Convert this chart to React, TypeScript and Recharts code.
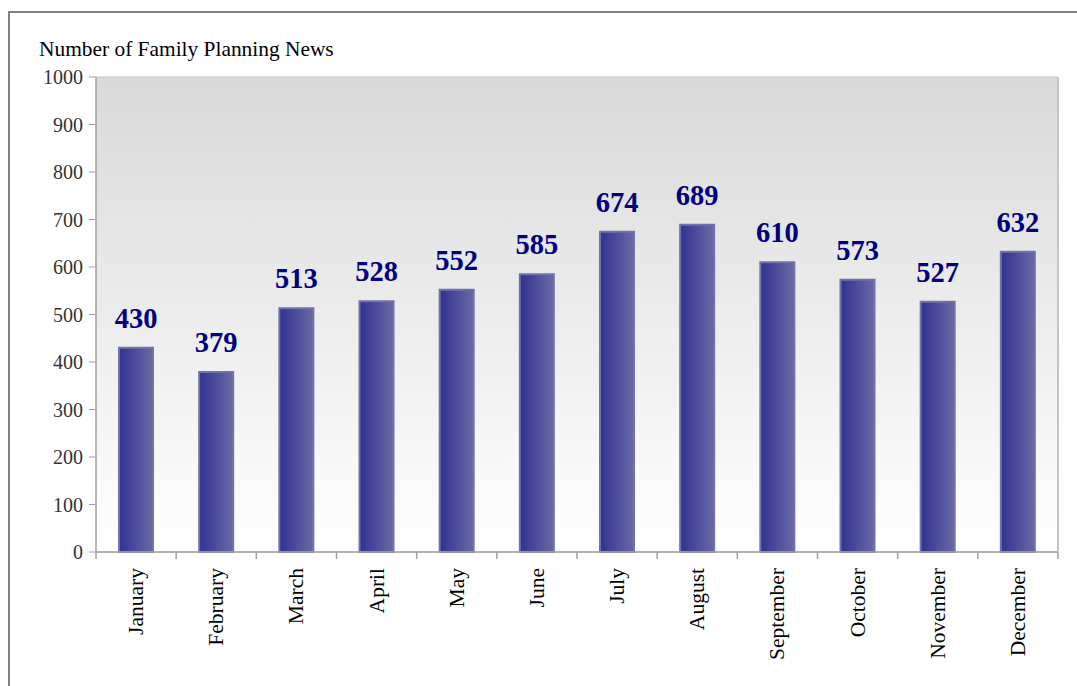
import React from "react";
import { BarChart, Bar, XAxis, YAxis, CartesianGrid, LabelList } from "recharts";

const months = ["January","February","March","April","May","June","July","August","September","October","November","December"];
const newsCounts = [430, 379, 513, 528, 552, 585, 674, 689, 610, 573, 527, 632];
const yTicks = [0, 100, 200, 300, 400, 500, 600, 700, 800, 900, 1000];
const title = "Number of Family Planning News";

const data = months.map((m, i) => ({ month: m, value: newsCounts[i] }));

const FONT = "'Liberation Serif', 'Times New Roman', serif";

const MonthTick = (props: any) => {
  const { x, y, payload, index } = props;
  const half = payload && payload.offset ? payload.offset : 40.1;
  // y = axis line + tickSize(6) + tickMargin(2)
  const axisY = y - 8;
  return (
    <g>
      <line x1={x - half} y1={axisY} x2={x - half} y2={axisY + 7} stroke="#a0a0a0" strokeWidth={1.5} />
      {index === months.length - 1 && (
        <line x1={x + half} y1={axisY} x2={x + half} y2={axisY + 7} stroke="#a0a0a0" strokeWidth={1.5} />
      )}
      <text
        x={x}
        y={axisY + 16}
        transform={`rotate(-90, ${x}, ${axisY + 16})`}
        textAnchor="end"
        dominantBaseline="central"
        fontFamily={FONT}
        fontSize={21.5}
        fill="#000"
      >
        {payload.value}
      </text>
    </g>
  );
};

export default function App() {
  return (
    <div style={{ position: "absolute", left: 0, top: 0, width: 1077, height: 686, overflow: "hidden", background: "#fff" }}>
      <div style={{ position: "absolute", left: 8, top: 11, width: 1200, height: 800, borderLeft: "2px solid #808080", borderTop: "2px solid #808080" }} />
      <div style={{ position: "absolute", left: 39, top: 39, fontFamily: FONT, fontSize: 21.4, lineHeight: "21px", color: "#000", whiteSpace: "nowrap" }}>
        {title}
      </div>
      <div style={{ position: "absolute", left: 0, top: 0 }}>
        <BarChart width={1077} height={686} data={data} margin={{ top: 77, right: 18, bottom: 0, left: 0 }} barSize={34}>
          <defs>
            <linearGradient id="plotBg" x1="0" y1="0" x2="0" y2="1">
              <stop offset="0%" stopColor="#d9d9d9" />
              <stop offset="100%" stopColor="#ffffff" />
            </linearGradient>
            <linearGradient id="barFill" x1="0" y1="0" x2="1" y2="0">
              <stop offset="0%" stopColor="#313192" />
              <stop offset="100%" stopColor="#6a6aa4" />
            </linearGradient>
          </defs>
          <CartesianGrid vertical={false} stroke="#c4c4c4" fill="url(#plotBg)" />
          <XAxis
            dataKey="month"
            interval={0}
            tickLine={false}
            tickSize={6}
            tickMargin={2}
            axisLine={{ stroke: "#a0a0a0", strokeWidth: 1.5 }}
            tick={<MonthTick />}
            height={134}
          />
          <YAxis
            yAxisId="left"
            domain={[0, 1000]}
            ticks={yTicks}
            interval={0}
            width={96}
            tickSize={7}
            tickMargin={6}
            tickLine={{ stroke: "#a0a0a0" }}
            axisLine={{ stroke: "#a0a0a0", strokeWidth: 1.5 }}
            tick={{ fontFamily: FONT, fontSize: 20, fill: "#333" }}
          />
          <YAxis
            yAxisId="right"
            orientation="right"
            domain={[0, 1000]}
            width={1}
            tick={false}
            tickLine={false}
            axisLine={{ stroke: "#c4c4c4", strokeWidth: 2 }}
          />
          <Bar yAxisId="left" dataKey="value" fill="url(#barFill)" stroke="#7272aa" strokeWidth={2} isAnimationActive={false}>
            <LabelList
              dataKey="value"
              position="top"
              offset={20}
              fill="#000080"
              fontFamily={FONT}
              fontSize={28.5}
              fontWeight="bold"
            />
          </Bar>
        </BarChart>
      </div>
    </div>
  );
}
